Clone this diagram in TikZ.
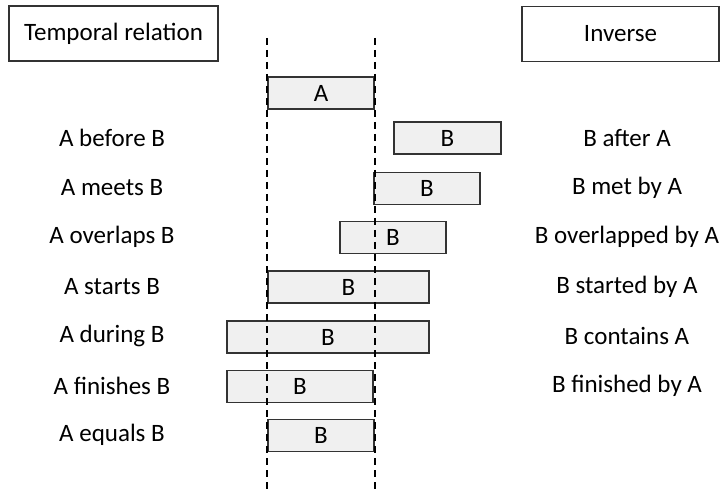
\documentclass[tikz,border=0pt]{standalone}
\usepackage{fontspec}
\setmainfont{Carlito}
\begin{document}
\begin{tikzpicture}[x=1pt, y=-1pt,
    every node/.style={font=\fontsize{25}{30}\selectfont},
    head/.style={draw=black!80, line width=1.3pt, minimum height=55pt, inner sep=0pt},
    bar/.style={draw=black!80, fill=black!6, line width=1.3pt, minimum height=32pt, inner sep=0pt},
    guide/.style={line width=2pt, dash pattern=on 7pt off 5pt}]
    \useasboundingbox (0,0) rectangle (721,492);

    \def\Xlab{112}; % left labels
    \def\Xinv{627}; % right labels
    \def\Ytop{38};
    \def\Ybot{492};

    % headers
    \node[head, minimum width=209pt] (rel) at (113.5, 33.5) {Temporal relation};
    \node[head, minimum width=197pt] (inv) at (620.5, 34) {Inverse};

    % interval A
    \node[bar, minimum width=106pt] (A) at (321, 93) {A};

    % before / after
    \node (l1) at (\Xlab, 138) {A before B};
    \node[bar, minimum width=107pt] (B1) at (447.5, 138) {B};
    \node (r1) at (\Xinv, 138) {B after A};

    % meets / met by
    \node (l2) at (\Xlab, 187.5) {A meets B};
    \node[bar, minimum width=106pt] (B2) at (427, 188.5) {B};
    \node (r2) at (\Xinv, 187.5) {B met by A};

    % overlaps
    \node (l3) at (\Xlab, 237) {A overlaps B};
    \node[bar, minimum width=106pt] (B3) at (393, 237.5) {B};
    \node (r3) at (\Xinv, 237) {B overlapped by A};

    % starts
    \node (l4) at (\Xlab, 286.5) {A starts B};
    \node[bar, minimum width=161pt] (B4) at (348.5, 287) {B};
    \node (r4) at (\Xinv, 286.5) {B started by A};

    % during / contains
    \node (l5) at (\Xlab, 336) {A during B};
    \node[bar, minimum width=202pt] (B5) at (328, 337) {B};
    \node (r5) at (\Xinv, 336) {B contains A};

    % finishes
    \node (l6) at (\Xlab, 385.5) {A finishes B};
    \node[bar, minimum width=146pt] (B6) at (300, 386.5) {B};
    \node (r6) at (\Xinv, 385.5) {B finished by A};

    % equals
    \node (l7) at (\Xlab, 435) {A equals B};
    \node[bar, minimum width=106pt] (B7) at (321, 435.5) {B};

    % guide lines at the ends of A
    \coordinate (gl1) at (A.west |- 0, \Ytop);
    \coordinate (gl2) at (A.west |- 0, \Ybot);
    \coordinate (gr1) at (A.east |- 0, \Ytop);
    \coordinate (gr2) at (A.east |- 0, \Ybot);
    \draw[guide] (gl1) -- (gl2);
    \draw[guide] (gr1) -- (gr2);

\end{tikzpicture}
\end{document}
